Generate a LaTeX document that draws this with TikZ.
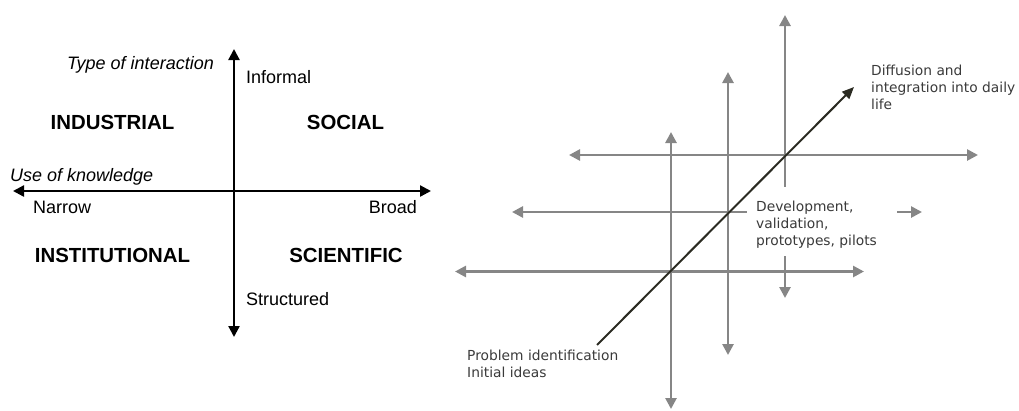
\documentclass[tikz,border=0pt]{standalone}
\usepackage{fontspec}
\setmainfont{Liberation Sans}
\newfontfamily\dvfont{DejaVu Sans}
\usetikzlibrary{arrows.meta}
\definecolor{axisgray}{HTML}{868686}
\definecolor{diagdark}{HTML}{2B2B22}
\definecolor{txtgray}{HTML}{3A3A3A}
\newcommand\stacklines[1]{\begin{tabular}[t]{@{}l@{}}#1\end{tabular}}
\begin{document}
\begin{tikzpicture}[x=1pt,y=-1pt,
  tipk/.tip={Triangle[length=11pt,width=11pt]},
  blackaxis/.style={line width=2.3pt, black, tipk-tipk},
  grayaxis/.style={line width=2.6pt, axisgray, tipk-tipk},
  grayhalf/.style={line width=2.6pt, axisgray, -tipk},
  diag/.style={line width=2pt, diagdark, -{Triangle[length=12pt,width=10pt]}},
  lab/.style={inner sep=0pt, font=\fontsize{18}{21}\selectfont},
  ilab/.style={lab, font=\itshape\fontsize{18}{21}\selectfont},
  quad/.style={inner sep=0pt, font=\bfseries\fontsize{20.4}{24}\selectfont},
  rlab/.style={inner sep=0pt, text=txtgray, font=\dvfont\fontsize{13.8}{17}\selectfont}
]
\useasboundingbox (0,0) rectangle (1019,410);

% ---------- left diagram ----------
\coordinate (vtop) at (234,49);
\coordinate (vbot) at (234,337);
\coordinate (hleft) at (13,191);
\coordinate (hright) at (431,191);
\draw[blackaxis] (vbot) -- (vtop);
\draw[blackaxis] (hleft) -- (hright);

\node[ilab, anchor=base east] (toi) at (214,69.5) {Type of interaction};
\node[lab, anchor=base west] (inf) at (246,83.3) {Informal};
\node[quad, anchor=base] (ind) at (112.5,129.4) {INDUSTRIAL};
\node[quad, anchor=base] (soc) at (345.5,129.4) {SOCIAL};
\node[ilab, anchor=base west] (uok) at (10,181) {Use of knowledge};
\node[lab, anchor=base west] (nar) at (33,213.3) {Narrow};
\node[lab, anchor=base east] (bro) at (417,213.3) {Broad};
\node[quad, anchor=base] (ins) at (112.5,262.7) {INSTITUTIONAL};
\node[quad, anchor=base] (sci) at (346,262.7) {SCIENTIFIC};
\node[lab, anchor=base west] (str) at (246,305.5) {Structured};

% ---------- right diagram ----------
\coordinate (h1l) at (569,155);  \coordinate (h1r) at (978,155);
\coordinate (h2l) at (512,212);  \coordinate (h2r) at (922,212);
\coordinate (h3l) at (455,271.5);\coordinate (h3r) at (864,271.5);
\coordinate (v1t) at (671,132);  \coordinate (v1b) at (671,409);
\coordinate (v2t) at (728,72);   \coordinate (v2b) at (728,355);
\coordinate (v3t) at (785,15);   \coordinate (v3b) at (785,298);
\draw[grayaxis] (h1l) -- (h1r);
\draw[grayaxis] (h2l) -- (h2r);
\draw[grayaxis] (h3l) -- (h3r);
\draw[grayaxis] (v1b) -- (v1t);
\draw[grayaxis] (v2b) -- (v2t);
\draw[grayaxis] (v3b) -- (v3t);

\node[fill=white, inner sep=0pt, minimum width=150pt, minimum height=69pt] (devbox) at (822,221.5) {};
\node[rlab, anchor=base west] (dev) at (756,211.7) {\stacklines{Development,\\validation,\\prototypes, pilots}};

\coordinate (dstart) at (597,345);
\coordinate (dend) at (854,87);
\draw[diag] (dstart) -- (dend);

\node[rlab, anchor=base west] (dif) at (871,75) {\stacklines{Diffusion and\\integration into daily\\life}};
\node[rlab, anchor=base west] (prob) at (467,360.7) {\stacklines{Problem identification\\Initial ideas}};
\end{tikzpicture}
\end{document}
